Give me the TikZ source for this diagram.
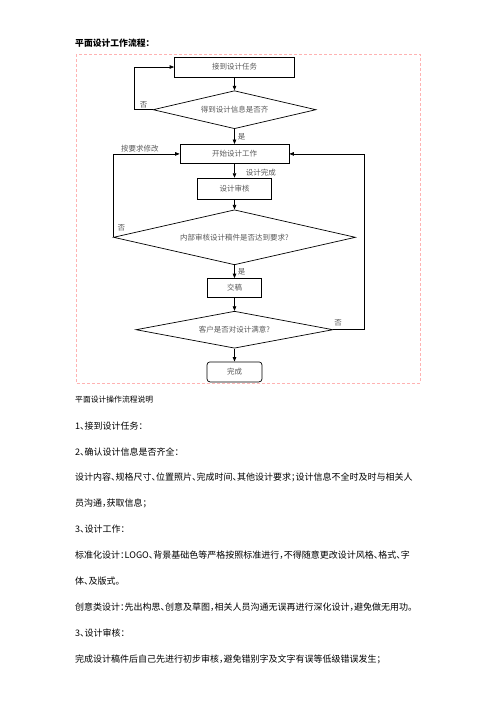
\documentclass[tikz,border=0pt]{standalone}
\usepackage{fontspec}
\setmainfont{Noto Sans CJK SC}[RawFeature=+halt]
\usetikzlibrary{positioning,arrows.meta,shapes.geometric}
\XeTeXlinebreaklocale "zh"
\XeTeXlinebreakskip=0pt plus 1pt minus 0.5pt
\newcommand\fullline[1]{\makebox[346pt][s]{#1}}

\tikzset{
  stepbox/.style={draw, line width=0.7pt, inner sep=0pt, minimum height=20pt,
    font=\fontsize{7.5}{9}\selectfont, text=black!65},
  choice/.style={diamond, draw, line width=0.7pt, inner sep=0pt, aspect=4.5,
    font=\fontsize{7.5}{9}\selectfont, text=black!65},
  flow/.style={line width=0.7pt, -{Triangle[length=4.5pt,width=3.5pt]}},
  lbl/.style={font=\fontsize{7.5}{9}\selectfont, text=black!65, inner sep=1pt},
  bodyline/.style={anchor=west, inner sep=0pt, font=\fontsize{9}{11}\selectfont},
}

\begin{document}
\begin{tikzpicture}[x=1pt,y=-1pt,node distance=13pt]
\useasboundingbox (0,0) rectangle (496,702);
\node[bodyline, font=\fontsize{8.8}{10}\selectfont\bfseries] (title) at (75,43) {平面设计工作流程：};
\draw[red!30, densely dashed, line width=0.5pt] (76,54) rectangle (420,383);

% flow chart
\node[stepbox, minimum width=120pt] (get) at (234.5,67) {接到设计任务};
\node[choice, below=of get, minimum width=163pt, minimum height=38pt] (info) {得到设计信息是否齐};
\node[stepbox, below=15pt of info, minimum width=109pt, minimum height=19pt] (work) {开始设计工作};
\node[stepbox, below=14pt of work, minimum width=74pt, minimum height=21pt] (check) {设计审核};
\node[choice, below=10pt of check, minimum width=242pt, minimum height=55pt] (inner) {内部审核设计稿件是否达到要求?};
\node[stepbox, below=of inner, minimum width=54pt, minimum height=19pt] (hand) {交稿};
\node[choice, below=of hand, minimum width=197pt, minimum height=37pt, aspect=5.3] (client) {客户是否对设计满意?};
\node[stepbox, below=of client, minimum width=55pt, rounded corners=3pt] (done) {完成};

\draw[flow] (get) -- (info);
\draw[flow] (info) -- node[lbl, right=2pt] {是} (work);
\draw[flow] (work) -- node[lbl, right=10pt, pos=0.6] {设计完成} (check);
\draw[flow] (check) -- (inner);
\draw[flow] (inner) -- node[lbl, right=2pt] {是} (hand);
\draw[flow] (hand) -- (client);
\draw[flow] (client) -- (done);

% loops back
\draw[flow] (info.west) -- node[lbl, above] {否} ++(-18,0) |- (get.west);
\draw[flow] (inner.west) |- node[lbl, pos=0, above right=5pt and 3pt] {否}
  node[lbl, above, pos=0.7] {按要求修改} (work.west);
\draw[flow] (client.east) -- node[lbl, above, pos=0.15, yshift=2pt] {否} ++(31,0) |- (work.east);

% notes below
\node[bodyline, font=\fontsize{7.8}{10}\selectfont] (line1) at (75,400) {平面设计操作流程说明};
\foreach \txt [count=\i from 2] in {
  1、接到设计任务：,
  2、确认设计信息是否齐全：,
  \fullline{设计内容、规格尺寸、位置照片、完成时间、其他设计要求；设计信息不全时及时与相关人},
  员沟通，获取信息；,
  3、设计工作：,
  \fullline{标准化设计：LOGO、背景基础色等严格按照标准进行，不得随意更改设计风格、格式、字},
  体、及版式。,
  创意类设计：先出构思、创意及草图，相关人员沟通无误再进行深化设计，避免做无用功。,
  3、设计审核：,
  完成设计稿件后自己先进行初步审核，避免错别字及文字有误等低级错误发生；}
  \node[bodyline] (line\i) at (75,{400+25.9*(\i-1)}) {\txt};
\end{tikzpicture}
\end{document}
